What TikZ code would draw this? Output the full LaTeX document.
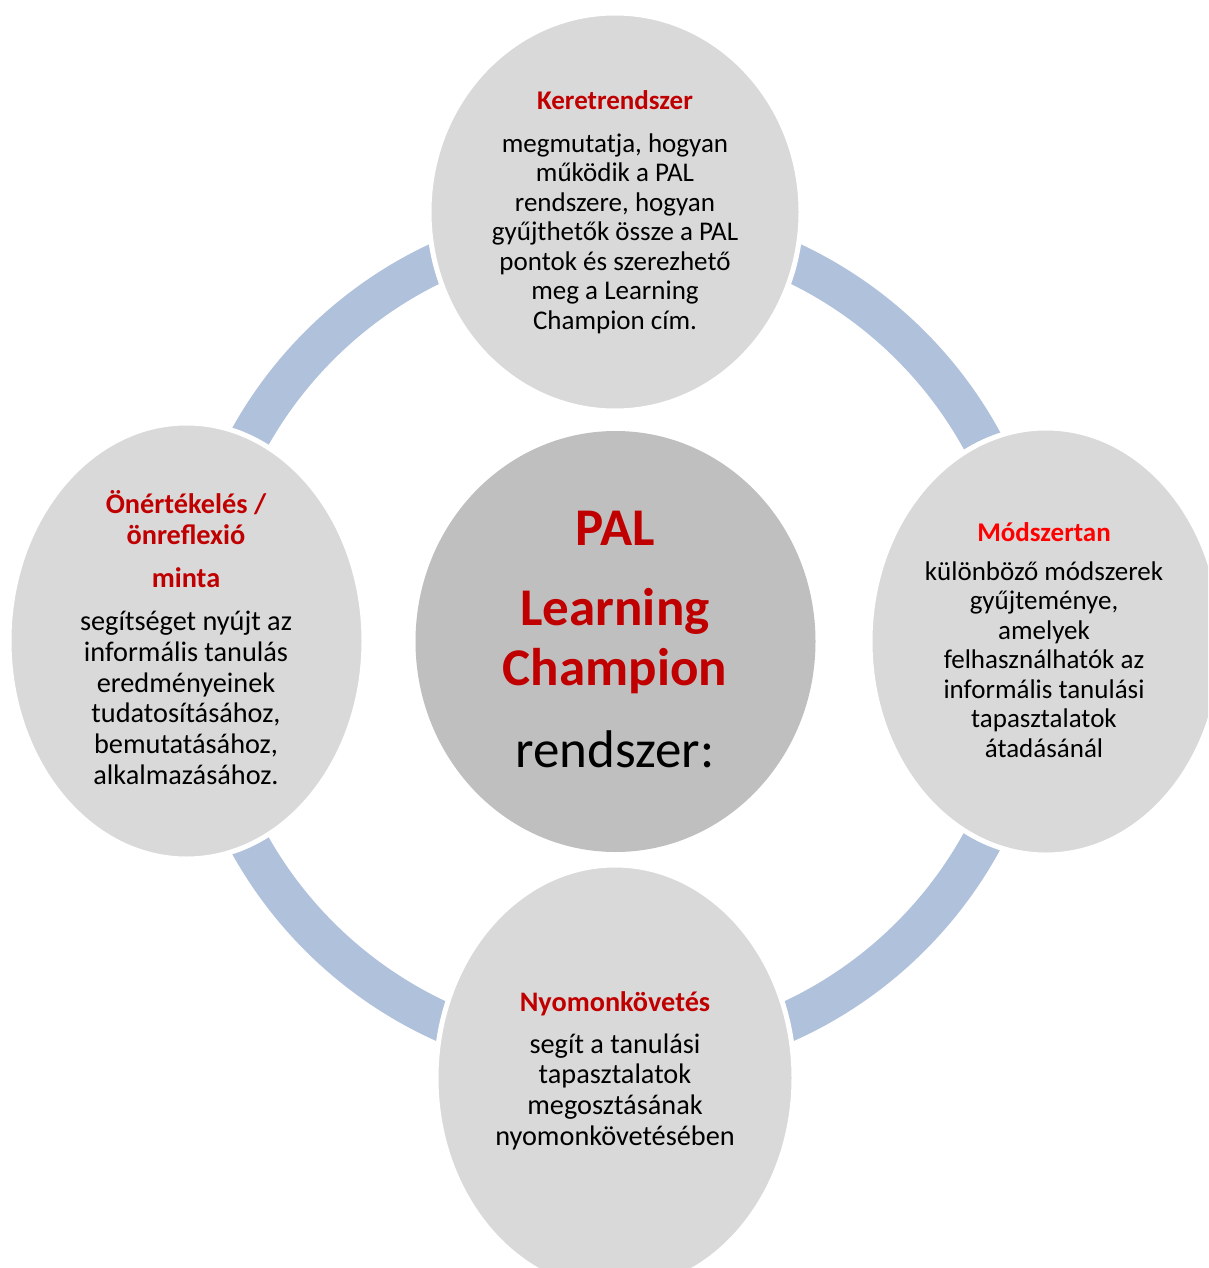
\documentclass[tikz,border=0pt]{standalone}
\usepackage{fontspec}
\setmainfont{Carlito}
\usetikzlibrary{shapes.geometric}

\definecolor{ringblue}{HTML}{B0C1DC}
\definecolor{bubblegray}{HTML}{D9D9D9}
\definecolor{hubgray}{HTML}{BFBFBF}
\definecolor{titlered}{HTML}{C00000}
\definecolor{brightred}{HTML}{FF0000}

\newcommand{\smalltext}{\fontsize{27}{29.5}\selectfont}
\newcommand{\bigtext}{\fontsize{28.3}{30.65}\selectfont}

\tikzset{
  bubble/.style={ellipse, fill=bubblegray, draw=white, line width=5pt, inner sep=0pt},
  title/.style={font=\bfseries\smalltext, text=titlered, anchor=base},
  body/.style={font=\smalltext, align=center, anchor=base},
  hubtext/.style={font=\bfseries\fontsize{53}{60}\selectfont, text=titlered, align=center, anchor=base}
}

\begin{document}
\begin{tikzpicture}[x=1pt, y=-1pt]
    \useasboundingbox (0,0) rectangle (1208,1268);
    \clip (0,0) rectangle (1208,1268);
    % the ring behind the bubbles
    \draw[ringblue, line width=40pt] (615,641) circle(418);
    % bubbles
    \node[bubble, minimum width=372, minimum height=398] (frame) at (615,212) {};
    \node[bubble, minimum width=352, minimum height=427] (method) at (1046,641.5) {};
    \node[bubble, minimum width=358, minimum height=426] (track) at (615,1078) {};
    \node[bubble, minimum width=355, minimum height=436] (self) at (186.5,641) {};
    \node[ellipse, fill=hubgray, inner sep=0pt, minimum width=400, minimum height=421] (hub) at (615.5,641.5) {};
    % centre text (a node's base is its last line)
    \node[hubtext] (pal) at (615,545) {PAL};
    \node[hubtext] (lc) at (615,685) {Learning\\Champion};
    \node[body, font=\fontsize{53}{60}\selectfont] (sys) at (615,767) {rendszer:};
    % top
    \node[title] (frame title) at (615,110) {Keretrendszer};
    \node[body] (frame text) at (615,329) {megmutatja, hogyan\\működik a PAL\\rendszere, hogyan\\gyűjthetők össze a PAL\\pontok és szerezhető\\meg a Learning\\Champion cím.};
    % right
    \node[title, text=brightred] (method title) at (1044,541) {Módszertan};
    \node[body] (method text) at (1044,757) {különböző módszerek\\gyűjteménye,\\amelyek\\felhasználhatók az\\informális tanulási\\tapasztalatok\\átadásánál};
    % bottom
    \node[title, font=\bfseries\bigtext] (track title) at (615,1011) {Nyomonkövetés};
    \node[body, font=\bigtext] (track text) at (615,1145) {segít a tanulási\\tapasztalatok\\megosztásának\\nyomonkövetésében};
    % left
    \node[title, font=\bfseries\bigtext, align=center] (self title) at (186,544) {Önértékelés /\\önreflexió};
    \node[title, font=\bfseries\bigtext] (self sample) at (186,587) {minta};
    \node[body, font=\bigtext] (self text) at (186,784) {segítséget nyújt az\\informális tanulás\\eredményeinek\\tudatosításához,\\bemutatásához,\\alkalmazásához.};
\end{tikzpicture}
\end{document}
